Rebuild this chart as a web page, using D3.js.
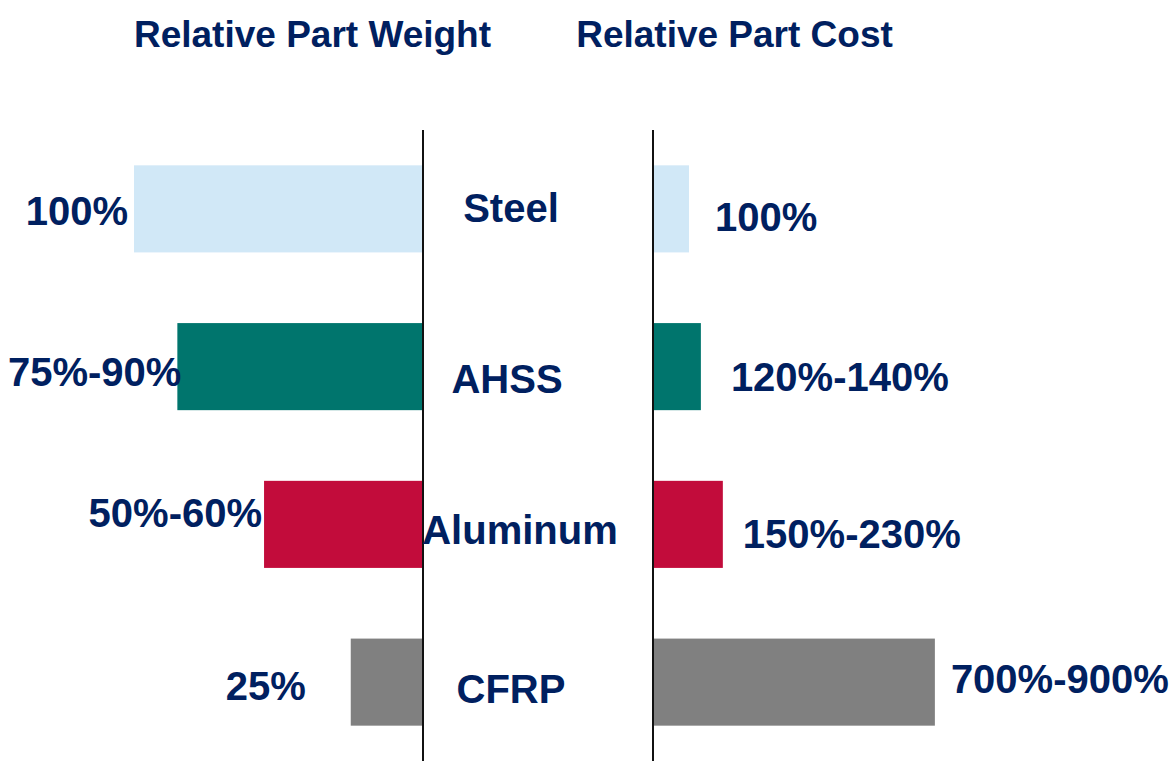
<!DOCTYPE html>
<html>
<head>
<meta charset="utf-8">
<script src="https://cdn.jsdelivr.net/npm/d3@7"></script>
<style>
  html, body { margin: 0; padding: 0; background: #ffffff; }
  svg { display: block; }
  text { font-family: "Liberation Sans", Arial, sans-serif; font-weight: bold; fill: #002060; }
</style>
</head>
<body>
<svg id="chart" width="1175" height="761"></svg>
<script>
// ---- data ----
const materials = ["Steel", "AHSS", "Aluminum", "CFRP"];
const weightValues = [100, 85, 55, 25];          // relative part weight (%), bar length
const weightLabels = ["100%", "75%-90%", "50%-60%", "25%"];
const costValues = [100, 133, 194, 783];         // relative part cost (%), bar length
const costLabels = ["100%", "120%-140%", "150%-230%", "700%-900%"];
const colors = ["#d1e8f7", "#00756d", "#c20c3b", "#808080"];
const titles = ["Relative Part Weight", "Relative Part Cost"];

// ---- layout (label nudges, px) ----
const leftGap = [6, -4, 2, 45];
const leftDy = [16.5, 19.5, 2.5, 17.5];
const midDx = [-27, -31, -18, -27];
const midDy = [13.5, 26.5, 19.5, 20.5];
const rightGap = [26, 30, 20, 16];
const rightDy = [22.5, 24.5, 23.5, 10.5];

const svg = d3.select("#chart");

const xW = d3.scaleLinear().domain([0, 100]).range([423, 134]);
const xC = d3.scaleLinear().domain([0, 100]).range([653, 689]);
const y = d3.scaleBand().domain(materials).range([130, 761])
  .paddingInner(0.448).paddingOuter(0.224);

const rows = materials.map((m, i) => ({ m, i, w: weightValues[i], c: costValues[i] }));

// bars
svg.selectAll("rect.w").data(rows).join("rect").attr("class", "w")
  .attr("x", d => xW(d.w)).attr("width", d => xW(0) - xW(d.w))
  .attr("y", d => y(d.m)).attr("height", y.bandwidth())
  .attr("fill", d => colors[d.i]);

svg.selectAll("rect.c").data(rows).join("rect").attr("class", "c")
  .attr("x", xC(0)).attr("width", d => xC(d.c) - xC(0))
  .attr("y", d => y(d.m)).attr("height", y.bandwidth())
  .attr("fill", d => colors[d.i]);

// axis lines
[xW(0), xC(0)].forEach(x => {
  svg.append("line").attr("x1", x).attr("x2", x)
    .attr("y1", y.range()[0]).attr("y2", y.range()[1])
    .attr("stroke", "#111").attr("stroke-width", 2);
});

// titles
svg.append("text").attr("x", 312.5).attr("y", 47).attr("text-anchor", "middle")
  .attr("font-size", 37).text(titles[0]);
svg.append("text").attr("x", 734.5).attr("y", 47).attr("text-anchor", "middle")
  .attr("font-size", 37).text(titles[1]);

const mid = (xW(0) + xC(0)) / 2;
const cy = d => y(d.m) + y.bandwidth() / 2;

// left labels
svg.selectAll("text.wl").data(rows).join("text").attr("class", "wl")
  .attr("x", d => xW(d.w) - leftGap[d.i]).attr("y", d => cy(d) + leftDy[d.i])
  .attr("text-anchor", "end").attr("font-size", 40)
  .text(d => weightLabels[d.i]);

// category labels
svg.selectAll("text.ml").data(rows).join("text").attr("class", "ml")
  .attr("x", d => mid + midDx[d.i]).attr("y", d => cy(d) + midDy[d.i])
  .attr("text-anchor", "middle").attr("font-size", 40)
  .text(d => d.m);

// right labels
svg.selectAll("text.cl").data(rows).join("text").attr("class", "cl")
  .attr("x", d => xC(d.c) + rightGap[d.i]).attr("y", d => cy(d) + rightDy[d.i])
  .attr("text-anchor", "start").attr("font-size", 40)
  .text(d => costLabels[d.i]);
</script>
</body>
</html>
